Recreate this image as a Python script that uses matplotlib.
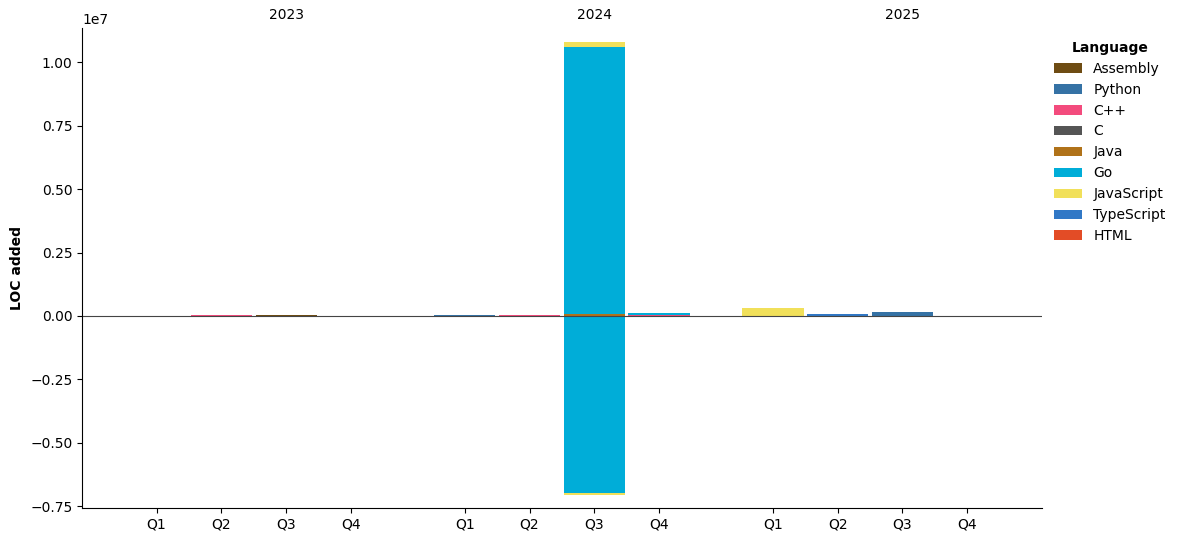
import numpy as np
import matplotlib
matplotlib.use("Agg")
import matplotlib.pyplot as plt

years = ["2023", "2024", "2025"]
quarters = ["Q1", "Q2", "Q3", "Q4"]
languages = ["Assembly", "Python", "C++", "C", "Java", "Go",
             "JavaScript", "TypeScript", "HTML"]
colors = ["#6e4c13", "#3572a5", "#f34b7d", "#555555", "#b07219",
          "#00add8", "#f1e05a", "#3178c6", "#e34c26"]

# LOC added per quarter (2023 Q1..Q4, 2024 Q1..Q4, 2025 Q1..Q4)
loc = {
    "Assembly":   [0, 0, 30000, 0,   0, 0, 0, 0,   0, 0, 0, 0],
    "Python":     [0, 0, 0, 0,   35000, 0, 0, 0,   0, 0, 150000, 0],
    "C++":        [0, 30000, 0, 0,   0, 30000, 0, 25000,   0, 0, 0, 0],
    "C":          [0, 0, 0, 0,   0, 0, 0, 0,   0, 0, 0, 0],
    "Java":       [0, 0, 0, 0,   0, 0, 60000, 0,   0, 0, 0, 0],
    "Go":         [0, 0, 0, 0,   0, 0, 10530000, 95000,   0, 0, 0, 0],
    "JavaScript": [0, 0, 0, 0,   0, 0, 200000, 0,   315000, 0, 0, 0],
    "TypeScript": [0, 0, 0, 0,   0, 0, 0, 0,   0, 60000, 0, 0],
    "HTML":       [0, 0, 0, 0,   0, 0, 0, 0,   0, 0, 0, 0],
}
loc_removed = {
    "Go":         [0, 0, 0, 0,   0, 0, -6970000, 0,   0, 0, 0, 0],
    "JavaScript": [0, 0, 0, 0,   0, 0, -80000, 0,   0, 0, 0, 0],
}

group_step = 4.75
x = np.array([g * group_step + q for g in range(len(years)) for q in range(len(quarters))])

fig = plt.figure(figsize=(11.8, 5.42), dpi=100)
ax = fig.add_axes([0.0695, 0.063, 0.8135, 0.885])

pos_base = np.zeros(len(x))
neg_base = np.zeros(len(x))
for lang, col in zip(languages, colors):
    v = np.array(loc[lang], dtype=float)
    ax.bar(x, v, bottom=pos_base, width=0.95, color=col, label=lang)
    pos_base += v
    if lang in loc_removed:
        n = np.array(loc_removed[lang], dtype=float)
        ax.bar(x, n, bottom=neg_base, width=0.95, color=col)
        neg_base += n

ax.axhline(0, color="#444444", lw=0.8)
ax.set_xticks(x)
ax.set_xticklabels(quarters * len(years), fontsize=10)
ax.set_xlim(-1.15, x[-1] + 1.15)
ax.set_ylim(-7.56e6, 11.34e6)
ax.set_ylabel("LOC added", fontweight="bold", fontsize=10)
ax.spines["top"].set_visible(False)
ax.spines["right"].set_visible(False)

trans = ax.get_xaxis_transform()
for g, yr in enumerate(years):
    ax.text(g * group_step + 2, 1.013, yr, transform=trans,
            ha="center", va="bottom", fontsize=10)

leg = ax.legend(title="Language", loc="upper left", bbox_to_anchor=(1.0, 1.0),
                frameon=False, fontsize=10)
leg.get_title().set_fontweight("bold")

fig.savefig("out.png", dpi=100)
plt.close(fig)
